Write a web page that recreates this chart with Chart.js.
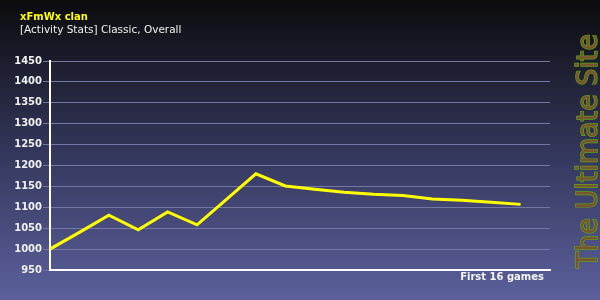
<!DOCTYPE html>
<html>
<head>
<meta charset="utf-8">
<script src="https://cdn.jsdelivr.net/npm/chart.js@4"></script>
<style>
  html, body { margin: 0; padding: 0; background: #000; }
  #wrap { width: 600px; height: 300px; }
</style>
</head>
<body>
<div id="wrap"><canvas id="chart" width="600" height="300"></canvas></div>
<script>
const titleText = 'xFmWx clan';
const subtitleText = '[Activity Stats] Classic, Overall';
const xLabel = 'First 16 games';
const watermark = 'The Ultimate Site';

// game index 0..16, activity value
const games = [0, 1, 2, 3, 4, 5, 6, 7, 8, 9, 10, 11, 12, 13, 14, 15, 16];
const activity = [1000, 1040, 1081, 1046, 1089, 1058, 1119, 1180, 1151, 1143, 1136, 1131, 1128, 1120, 1117, 1112, 1107];
const yMin = 950, yMax = 1450, yStep = 50;

const decor = {
  id: 'decor',
  beforeDraw(chart) {
    const c = chart.ctx;
    const g = c.createLinearGradient(0, 0, 0, chart.height);
    g.addColorStop(0, '#0b0b0d');
    g.addColorStop(0.5, '#33365a');
    g.addColorStop(1, '#5c609c');
    c.save();
    c.fillStyle = g;
    c.fillRect(0, 0, chart.width, chart.height);
    c.restore();
  },
  afterDraw(chart) {
    const c = chart.ctx;
    c.save();
    c.textAlign = 'left';
    c.textBaseline = 'alphabetic';
    c.font = 'bold 10px "DejaVu Sans"';
    c.fillStyle = '#ffff00';
    c.fillText(titleText, 20, 20);
    c.font = '10.5px "DejaVu Sans"';
    c.fillStyle = '#f0f0f0';
    c.fillText(subtitleText, 20, 33, 164);

    c.font = 'bold 10px "DejaVu Sans"';
    c.textAlign = 'right';
    c.fillStyle = '#f4f4f4';
    c.fillText(xLabel, 544, 280);

    // vertical watermark
    c.translate(597, 268);
    c.rotate(-Math.PI / 2);
    c.textAlign = 'left';
    c.font = '29px "DejaVu Sans"';
    c.lineWidth = 1.5;
    c.strokeStyle = '#5aa80e';
    c.strokeText(watermark, 0, 0, 234);
    c.fillStyle = '#7c5232';
    c.fillText(watermark, 0, 0, 234);
    c.restore();
  }
};

new Chart(document.getElementById('chart'), {
  type: 'line',
  data: {
    labels: games,
    datasets: [{
      data: games.map((g, i) => ({ x: g, y: activity[i] })),
      borderColor: '#ffff00',
      borderWidth: 3,
      pointRadius: 0,
      tension: 0,
      fill: false
    }]
  },
  options: {
    responsive: false,
    animation: false,
    layout: { padding: { top: 61, right: 50, left: 0, bottom: 0 } },
    plugins: { legend: { display: false }, tooltip: { enabled: false } },
    scales: {
      x: {
        type: 'linear',
        min: 0,
        max: 17,
        ticks: { display: false },
        grid: { display: false, drawTicks: false },
        border: { color: '#ffffff', width: 2 },
        afterFit(scale) { scale.height = 30; }
      },
      y: {
        min: yMin,
        max: yMax,
        ticks: {
          stepSize: yStep,
          color: '#f0f0f0',
          font: { family: 'DejaVu Sans', size: 10, weight: 'bold' },
          padding: 1,
          callback: v => String(v)
        },
        grid: { color: '#7476a4', lineWidth: 1, tickLength: 7 },
        border: { color: '#ffffff', width: 2 },
        afterFit(scale) { scale.width = 50; }
      }
    }
  },
  plugins: [decor]
});
</script>
</body>
</html>
